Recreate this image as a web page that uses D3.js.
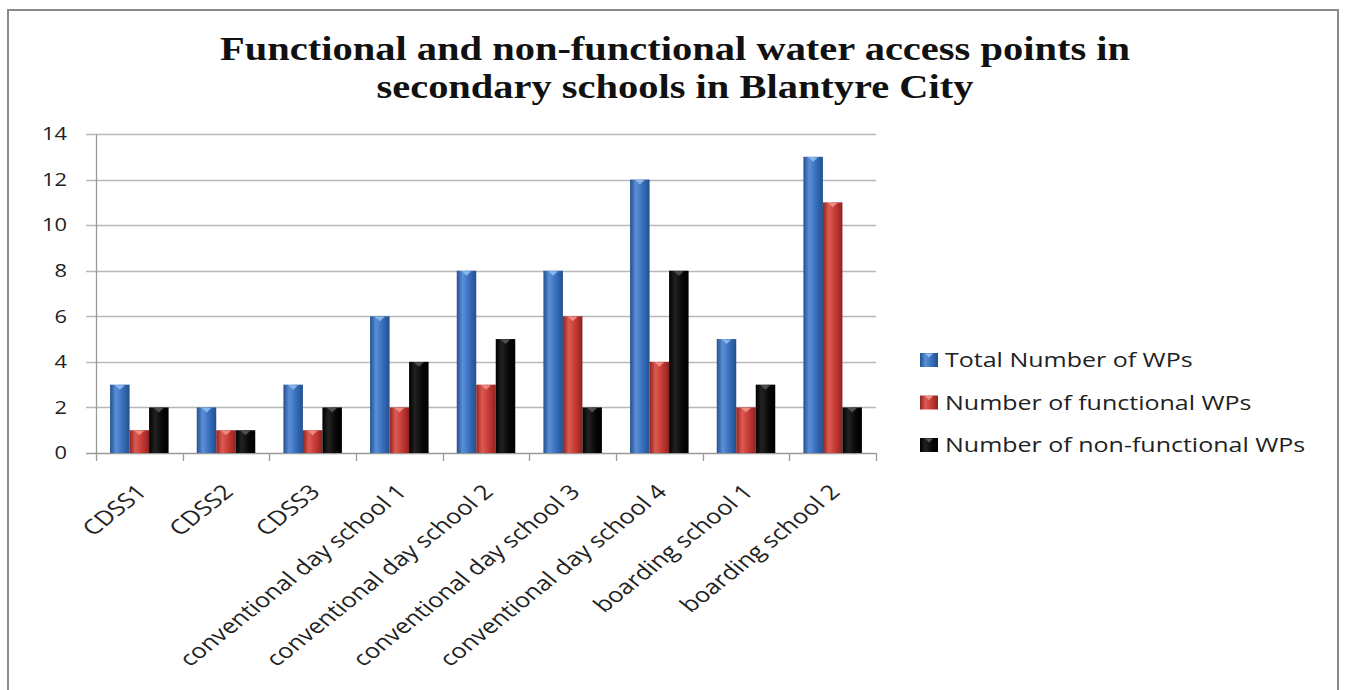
<!DOCTYPE html>
<html>
<head>
<meta charset="utf-8">
<script src="https://cdn.jsdelivr.net/npm/d3@7/dist/d3.min.js"></script>
<style>
  html, body { margin: 0; padding: 0; background: #fff; }
  svg { display: block; }
</style>
</head>
<body>
<svg id="chart" width="1346" height="690"></svg>
<script>
// Water access points per school
const schools = ["CDSS1", "CDSS2", "CDSS3", "conventional day school 1", "conventional day school 2",
  "conventional day school 3", "conventional day school 4", "boarding school 1", "boarding school 2"];
const totalWPs = [3, 2, 3, 6, 8, 8, 12, 5, 13];
const functionalWPs = [1, 1, 1, 2, 3, 6, 4, 2, 11];
const nonFunctionalWPs = [2, 1, 2, 4, 5, 2, 8, 3, 2];
const seriesNames = ["Total Number of WPs", "Number of functional WPs", "Number of non-functional WPs"];
const yTicks = [0, 2, 4, 6, 8, 10, 12, 14];
const titleLines = ["Functional and non-functional water access points in",
  "secondary schools in Blantyre City"];

const series = [totalWPs, functionalWPs, nonFunctionalWPs];
const palette = [
  { dark: "#23508f", base: "#3369b5", light: "#5a8fd8", cap: "#8fbcf0" },
  { dark: "#8e2220", base: "#bf3530", light: "#dd5a52", cap: "#f0928a" },
  { dark: "#000000", base: "#060606", light: "#222222", cap: "#555555" }
];

const svg = d3.select("#chart");
const W = 1346, H = 690;
const sx = 1.25; // text is drawn horizontally widened
const font = "'Open Sans', 'DejaVu Sans', sans-serif";

// Outer frame
svg.append("path")
  .attr("d", `M8,${H} L8,10 L1338,10 L1338,${H}`)
  .attr("fill", "none").attr("stroke", "#8a8a8a").attr("stroke-width", 2);

// Gradients for the bar shading
const defs = svg.append("defs");
palette.forEach((p, i) => {
  const g = defs.append("linearGradient").attr("id", "grad" + i)
    .attr("x1", "0").attr("x2", "1").attr("y1", "0").attr("y2", "0");
  g.append("stop").attr("offset", "0%").attr("stop-color", p.dark);
  g.append("stop").attr("offset", "30%").attr("stop-color", p.light);
  g.append("stop").attr("offset", "70%").attr("stop-color", p.base);
  g.append("stop").attr("offset", "100%").attr("stop-color", p.dark);
});

// Plot area
const plotLeft = 96, plotRight = 876, plotTop = 134, plotBottom = 453;
const x0 = d3.scaleBand().domain(schools).range([plotLeft, plotRight]).paddingInner(0).paddingOuter(0);
const groupW = 58.5;
const x1 = d3.scaleBand().domain([0, 1, 2])
  .range([(x0.bandwidth() - groupW) / 2, (x0.bandwidth() + groupW) / 2]).padding(0);
const y = d3.scaleLinear().domain([0, 14]).range([plotBottom, plotTop]);

// Horizontal gridlines
svg.append("g").selectAll("line").data(yTicks).join("line")
  .attr("x1", plotLeft - 10).attr("x2", plotRight)
  .attr("y1", d => Math.round(y(d)) + 0.5).attr("y2", d => Math.round(y(d)) + 0.5)
  .attr("stroke", d => d === 0 ? "#9a9a9a" : "#b8b8b8").attr("stroke-width", 1.3);

// Y axis line
svg.append("line")
  .attr("x1", plotLeft + 0.5).attr("x2", plotLeft + 0.5).attr("y1", plotTop).attr("y2", plotBottom + 1)
  .attr("stroke", "#9a9a9a").attr("stroke-width", 1.3);

// Category tick marks
const boundaries = schools.map(s => x0(s)).concat([plotRight]);
svg.append("g").selectAll("line").data(boundaries).join("line")
  .attr("x1", d => Math.round(d) + 0.5).attr("x2", d => Math.round(d) + 0.5)
  .attr("y1", plotBottom).attr("y2", plotBottom + 8)
  .attr("stroke", "#9a9a9a").attr("stroke-width", 1.3);

// Y tick labels
svg.append("g").selectAll("text").data(yTicks).join("text")
  .attr("transform", d => `translate(67,${y(d)}) scale(${sx},1)`)
  .attr("dy", "0.36em")
  .attr("text-anchor", "end")
  .attr("font-family", font).attr("font-size", 17.5).attr("fill", "#222")
  .text(d => d);

// Bars
const groups = svg.append("g").selectAll("g").data(schools).join("g")
  .attr("transform", d => `translate(${x0(d)},0)`);

groups.each(function (school, si) {
  const g = d3.select(this);
  series.forEach((vals, k) => {
    const v = vals[si];
    const bx = x1(k), bw = x1.bandwidth(), by = y(v), bh = y(0) - y(v);
    g.append("rect")
      .attr("x", bx).attr("y", by).attr("width", bw).attr("height", bh)
      .attr("fill", `url(#grad${k})`);
    // bevelled top edge
    g.append("path")
      .attr("d", `M${bx + bw * 0.25},${by + 0.5} L${bx + bw * 0.75},${by + 0.5} L${bx + bw * 0.5},${by + 5} Z`)
      .attr("fill", palette[k].cap).attr("opacity", 0.9);
  });
});

// X category labels
svg.append("g").selectAll("text").data(schools).join("text")
  .attr("transform", d => `translate(${x0(d) + x0.bandwidth() / 2 - 4},483) scale(${sx},1) rotate(-45)`)
  .attr("text-anchor", "end")
  .attr("dy", "0.7em")
  .attr("font-family", font).attr("font-size", 20.5).attr("fill", "#222")
  .text(d => d);

// Title
svg.append("g").selectAll("text").data(titleLines).join("text")
  .attr("x", 675).attr("y", (d, i) => 60 + i * 38)
  .attr("text-anchor", "middle")
  .attr("font-family", "'Liberation Serif', 'Times New Roman', serif")
  .attr("font-weight", "bold").attr("font-size", 33).attr("fill", "#111")
  .attr("textLength", (d, i) => i === 0 ? 910 : 597)
  .attr("lengthAdjust", "spacingAndGlyphs")
  .text(d => d);

// Legend
const legend = svg.append("g").selectAll("g").data(seriesNames).join("g")
  .attr("transform", (d, i) => `translate(920,${360 + i * 42.5})`);
legend.append("rect")
  .attr("x", 0).attr("y", -7).attr("width", 18).attr("height", 14)
  .attr("fill", (d, i) => `url(#grad${i})`);
legend.append("path")
  .attr("d", "M5,-6.5 L13,-6.5 L9,-2.5 Z")
  .attr("fill", (d, i) => palette[i].cap);
legend.append("text")
  .attr("transform", `translate(25,0) scale(${sx},1)`)
  .attr("dy", "0.36em")
  .attr("font-family", font).attr("font-size", 20).attr("fill", "#222")
  .text(d => d);
</script>
</body>
</html>
